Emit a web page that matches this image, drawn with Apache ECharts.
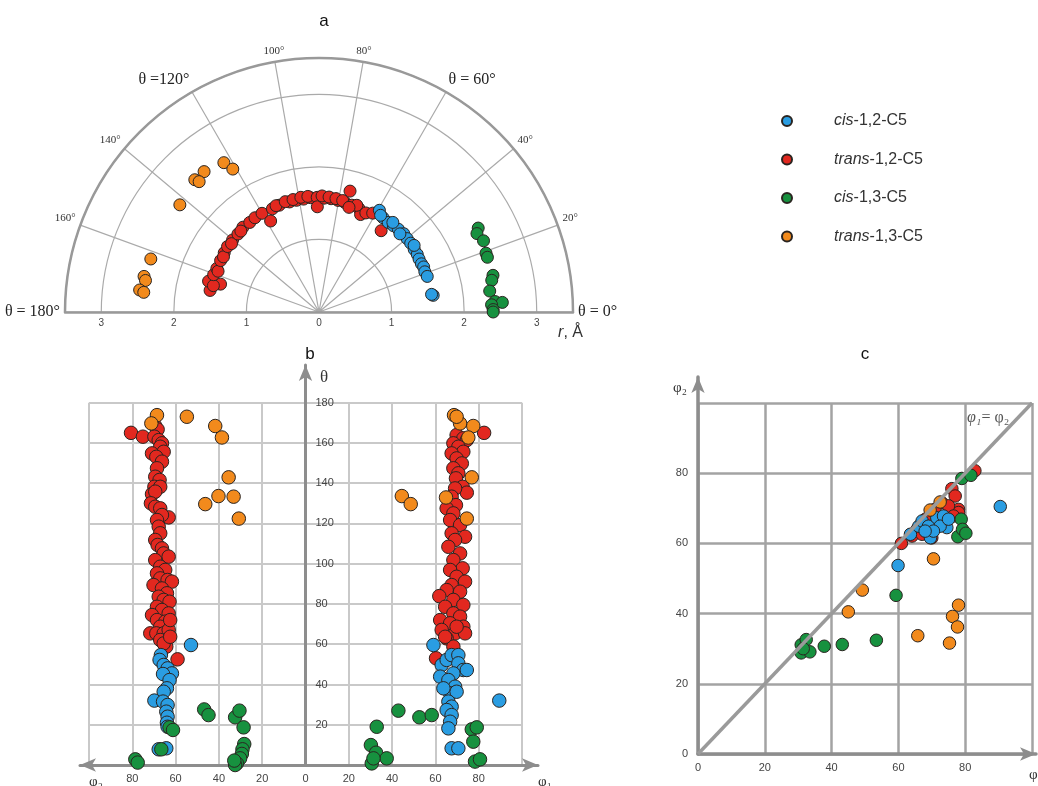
<!DOCTYPE html>
<html><head><meta charset="utf-8">
<script src="https://cdn.jsdelivr.net/npm/echarts@6/dist/echarts.min.js"></script>
<style>html,body{margin:0;padding:0;background:#fff}#c{width:1038px;height:786px}</style>
</head><body><div id="c"></div>
<script>
// ---------------- DATA ----------------
const speciesNames = ['cis-1,2-C5', 'trans-1,2-C5', 'cis-1,3-C5', 'trans-1,3-C5'];

// panel a : [r (Å), theta (deg)]
const aCis12 = [[1.63,59.3],[1.57,55.8],[1.56,52.3],[1.57,49.2],[1.58,46.2],[1.59,42.7],[1.58,39.8],[1.58,36.9],[1.57,33.3],[1.57,30.4],[1.56,27.9],[1.56,25.2],[1.57,23.3],[1.56,20.8],[1.57,18.2],[1.59,8.3],[1.57,8.9],[1.60,50.5],[1.55,44],[1.60,35],[1.58,57.5]];
const aTrans12 = [[1.53,168.8],[1.58,164.4],[1.41,164.2],[1.50,166],[1.54,160.5],[1.53,156.9],[1.50,158],[1.53,152.4],[1.54,148],[1.52,150],[1.55,144.4],[1.55,140.2],[1.53,142],[1.55,136.1],[1.57,131.9],[1.55,134],[1.56,127.7],[1.57,124.2],[1.57,120],[1.42,118],[1.56,114.3],[1.57,110.4],[1.58,112],[1.57,105],[1.59,107],[1.57,101.4],[1.59,103],[1.57,97.8],[1.60,99],[1.58,94.3],[1.60,95.5],[1.58,90.9],[1.45,90.9],[1.57,87.4],[1.60,88.5],[1.57,83.9],[1.59,85],[1.56,80.3],[1.58,81.5],[1.55,76.7],[1.72,75.6],[1.57,78],[1.54,72.9],[1.53,69],[1.46,66.9],[1.51,64.7],[1.55,61.5],[1.41,52.6],[1.56,70.5],[1.50,74]];
const aCis13 = [[2.48,27.8],[2.43,26.4],[2.47,23.4],[2.44,19.4],[2.44,18],[2.45,11.9],[2.42,10.4],[2.37,7],[2.43,3.4],[2.53,3],[2.38,2.4],[2.40,0.8],[2.40,0]];
const aTrans13 = [[2.44,122.5],[2.30,121.1],[2.50,129.3],[2.50,133.2],[2.44,132.6],[2.42,142.4],[2.43,162.5],[2.46,168.5],[2.43,169.7],[2.49,173],[2.43,173.6]];

// panel b : left half [phi2, theta], right half [phi1, theta]
const bCis12Phi2 = [[52.9,59.6],[66.8,54.6],[67.4,52.2],[65.5,49.7],[63.7,48],[61.7,45.5],[65.8,45.2],[62.8,42.2],[64,38.1],[65.5,36.4],[69.8,32],[65.8,31.5],[63.7,29.8],[64.3,26.5],[63.7,24],[64,21],[63.7,19],[67.8,7.8],[64.3,8.3]];
const bCis12Phi1 = [[59.1,59.6],[62.9,49.7],[62.2,43.9],[65.2,52.2],[67.5,54.6],[70.6,54.6],[70.6,50.5],[72.9,47.2],[74.5,47.2],[68.3,45.5],[66,42.2],[69.1,38.9],[66.8,35.6],[69.8,36.4],[66,31.5],[67.5,29],[65.2,27.3],[67.5,24.8],[66.8,21.5],[66,18.2],[67.5,8.3],[70.6,8.3],[89.5,32],[63.7,38.1]];
const bTrans12Phi2 = [[80.6,165],[75.1,163.1],[69.4,168.4],[68.3,166.7],[69.8,163.1],[67.8,161.4],[66.3,159.8],[67.1,158.1],[65.5,155.6],[70.9,154.8],[68.9,153.1],[66.3,150.7],[68.6,147.4],[69.4,143.2],[67.4,141.6],[69.8,138.2],[67.1,138.2],[70.9,134.6],[69.4,135.8],[71.4,130],[69.4,128.3],[67.1,127.5],[63.2,123],[66.3,124.2],[68.6,121.7],[67.8,118.4],[67.1,115.1],[69.4,111.8],[68.3,109.3],[66.3,107.6],[65.5,105.1],[63.2,103.5],[69.4,101.8],[67.1,98.5],[64.8,96.9],[68.6,95.2],[67.1,92.7],[63.7,91.9],[61.7,91.1],[70.2,89.4],[66.3,87.7],[64,85.3],[67.8,83.6],[65.5,82],[62.8,81.1],[68.6,78.6],[66.3,77],[63.2,75.3],[70.9,74.5],[68.6,72],[64.8,71.2],[67.1,68.7],[71.7,65.4],[68.9,65.4],[65.5,65.4],[63.2,67.1],[67.1,62.1],[64.3,58.8],[59.1,52.5],[65.5,60.4],[62.5,72],[62.5,63.7]];
const bTrans12Phi1 = [[82.5,165],[69.8,163.9],[72.9,162.3],[74.5,161.4],[68.3,159.8],[70.6,158.1],[72.9,155.6],[67.5,154.8],[69.8,152.3],[72.2,149.8],[68.3,147.4],[70.6,144.9],[69.5,142.4],[72.6,138.2],[74.5,135.3],[69.1,137.4],[67.5,133.3],[69.5,129.1],[65.2,127.5],[68.3,125],[66.8,121.7],[71.4,119.2],[73.7,113.4],[67.5,115.1],[69.1,111.8],[66,108.4],[71.4,105.1],[68.3,101.8],[72.6,97.7],[66.8,96.9],[69.8,93.5],[73.7,91.1],[67.5,89.4],[65.2,86.9],[71.4,86.1],[61.8,83.9],[68.3,82],[72.9,79.5],[64.5,78.6],[68.3,75.3],[71.4,73.7],[62.2,72],[66.8,70.4],[72.9,68.7],[62.9,67.1],[69.1,65.4],[73.7,65.4],[65.2,62.9],[68.3,58.8],[60.3,53],[64.5,63.7],[69.8,68.7]];
const bCis13Phi2 = [[78.6,2.8],[77.5,1.2],[66.6,7.8],[62.8,18.7],[61.2,17.4],[46.8,27.6],[44.8,24.8],[32.5,23.7],[30.5,27],[28.6,18.7],[28.3,10.4],[29.1,7.8],[29.4,5.5],[30.2,3.3],[31.7,0.8],[32.5,0],[32.9,2.2]];
const bCis13Phi1 = [[30.2,9.9],[32.6,6.1],[37.5,3.3],[30.6,0.8],[31.4,3.3],[32.9,19],[42.9,27],[52.6,23.7],[58.3,24.8],[76.8,17.7],[79.1,18.7],[77.5,11.6],[78.3,1.7],[80.6,2.8]];
const bTrans13Phi2 = [[68.6,173.8],[71.2,169.7],[54.8,173],[41.7,168.4],[38.6,162.7],[35.5,142.9],[40.2,133.6],[33.2,133.3],[46.3,129.6],[30.8,122.4]];
const bTrans13Phi1 = [[68.6,173.8],[71.4,169.7],[77.5,168.4],[75.2,162.7],[76.8,142.9],[64.9,132.9],[44.5,133.6],[48.6,129.6],[74.5,122.4],[69.8,173]];

// panel c : [phi1, phi2]
const cCis12 = [[63.6,62.6],[66.1,64.9],[67.1,66.4],[69,64.9],[69.6,61.6],[71.5,67.3],[73.5,67.8],[74.5,64.5],[72.5,64.9],[70.5,63.5],[68,63.5],[59.9,53.7],[75,66.9],[90.5,70.5]];
const cTrans12 = [[60.9,60],[76,75.6],[77,73.5],[78,69.7],[78,68.8],[82.9,80.7],[73,71.6],[70.9,69.7],[68.1,66.9],[65.6,64],[64.1,62.1],[75,70.7],[76.5,67.8],[74,66.4],[67.1,62.6],[70,61.6]];
const cCis13 = [[30.9,31.1],[30.9,28.8],[32.4,32.6],[33.5,29.1],[31.5,30],[37.8,30.7],[43.2,31.2],[53.4,32.4],[59.3,45.2],[77.8,61.9],[78.8,66.9],[79.2,64],[80.2,62.9],[79,78.5],[81.7,79.4]];
const cTrans13 = [[69.5,69.5],[72.5,71.8],[70.5,55.6],[45,40.5],[49.2,46.7],[65.8,33.7],[75.3,31.6],[76.2,39.2],[77.7,36.2],[78,42.4]];
const cDiagonal = [[0,0],[100,100]];

// tick label texts
const angleBigLabels = {0: 'θ = 0°', 60: 'θ = 60°', 120: 'θ =120°', 180: 'θ = 180°'};

// ---------------- STYLE / LAYOUT ----------------
const COLORS = {'cis-1,2-C5': '#2a9de2', 'trans-1,2-C5': '#e2281f', 'cis-1,3-C5': '#17913f', 'trans-1,3-C5': '#f28a1c'};
const PC = [319, 312], PR = 254, RMAX = 3.5;
const W = 1038, H = 786;
const SANS = 'Liberation Sans', SERIF = 'Liberation Serif';
const gridGray = '#c9c9c9', axisGray = '#8d8d8d';
const B_YPX = 2.013; // px per degree in panel b
const B_X0 = 305.5;  // theta axis position in panel b

function sc(name, extra, data, size) {
  return Object.assign({
    type: 'scatter', name: name, data: data, symbolSize: size,
    itemStyle: {color: COLORS[name], borderColor: '#2a2420', borderWidth: 1, opacity: 1},
    emphasis: {disabled: true}, silent: true
  }, extra);
}
const neg = arr => arr.map(p => [-p[0], p[1]]);

const series = [];
// panel a
series.push(sc('trans-1,2-C5', {coordinateSystem: 'polar', polarIndex: 0}, aTrans12, 12));
series.push(sc('cis-1,2-C5', {coordinateSystem: 'polar', polarIndex: 0}, aCis12, 12));
series.push(sc('cis-1,3-C5', {coordinateSystem: 'polar', polarIndex: 0}, aCis13, 12));
series.push(sc('trans-1,3-C5', {coordinateSystem: 'polar', polarIndex: 0}, aTrans13, 12));
// panel b
series.push(sc('trans-1,2-C5', {xAxisIndex: 0, yAxisIndex: 0}, neg(bTrans12Phi2).concat(bTrans12Phi1), 13.5));
series.push(sc('cis-1,2-C5', {xAxisIndex: 0, yAxisIndex: 0}, neg(bCis12Phi2).concat(bCis12Phi1), 13.5));
series.push(sc('cis-1,3-C5', {xAxisIndex: 0, yAxisIndex: 0}, neg(bCis13Phi2).concat(bCis13Phi1), 13.5));
series.push(sc('trans-1,3-C5', {xAxisIndex: 0, yAxisIndex: 0}, neg(bTrans13Phi2).concat(bTrans13Phi1), 13.5));
// panel c
series.push({type: 'line', name: 'diag', xAxisIndex: 2, yAxisIndex: 2, data: cDiagonal, symbol: 'none', silent: true,
  lineStyle: {color: '#9a9a9a', width: 3.5}});
series.push(sc('trans-1,2-C5', {xAxisIndex: 2, yAxisIndex: 2}, cTrans12, 12.5));
series.push(sc('cis-1,2-C5', {xAxisIndex: 2, yAxisIndex: 2}, cCis12, 12.5));
series.push(sc('cis-1,3-C5', {xAxisIndex: 2, yAxisIndex: 2}, cCis13, 12.5));
series.push(sc('trans-1,3-C5', {xAxisIndex: 2, yAxisIndex: 2}, cTrans13, 12.5));

const hidden = {show: false};
const tickLbl = {fontFamily: SANS, fontSize: 11, color: '#444'};
const bTop = 765 - 180 * B_YPX;

const option = {
  animation: false,
  backgroundColor: '#fff',
  title: [
    {text: 'a', left: 319, top: 8, textAlign: 'center', textStyle: {fontFamily: SANS, fontSize: 17, fontWeight: 'normal', color: '#111'}},
    {text: 'b', left: 305, top: 341, textAlign: 'center', textStyle: {fontFamily: SANS, fontSize: 17, fontWeight: 'normal', color: '#111'}},
    {text: 'c', left: 860, top: 341, textAlign: 'center', textStyle: {fontFamily: SANS, fontSize: 17, fontWeight: 'normal', color: '#111'}},
    {text: '{i|r}, Å', left: 578, top: 320, textAlign: 'right', textStyle: {fontFamily: SANS, fontSize: 16, fontWeight: 'normal', color: '#333', rich: {i: {fontStyle: 'italic', fontFamily: SANS, fontSize: 16, color: '#333'}}}},
    {text: 'θ', left: 315, top: 364, textStyle: {fontFamily: SERIF, fontSize: 17, fontWeight: 'normal', color: '#333'}},
    {text: 'φ₂', left: 84, top: 770, textStyle: {fontFamily: SERIF, fontSize: 15, fontWeight: 'normal', color: '#333'}},
    {text: 'φ₁', left: 533, top: 770, textStyle: {fontFamily: SERIF, fontSize: 15, fontWeight: 'normal', color: '#333'}},
    {text: 'φ₂', left: 668, top: 376, textStyle: {fontFamily: SERIF, fontSize: 15, fontWeight: 'normal', color: '#333'}},
    {text: 'φ₁', left: 1024, top: 763, textStyle: {fontFamily: SERIF, fontSize: 15, fontWeight: 'normal', color: '#333'}},
    {text: '{i|φ₁}= φ₂', left: 962, top: 405, textStyle: {fontFamily: SERIF, fontSize: 16, fontWeight: 'normal', color: '#555', rich: {i: {fontStyle: 'italic', fontFamily: SERIF, fontSize: 16, color: '#555'}}}}
  ],
  legend: {
    data: speciesNames, orient: 'vertical', left: 776, top: 108, itemWidth: 84, itemHeight: 10, itemGap: 22.5,
    icon: 'circle', selectedMode: false,
    formatter: n => { const k = n.indexOf('-'); return '{i|' + n.slice(0, k) + '}' + n.slice(k); },
    textStyle: {fontFamily: SANS, fontSize: 16, color: '#333', rich: {i: {fontFamily: SANS, fontSize: 16, fontStyle: 'italic', color: '#333'}}}
  },
  polar: [{center: PC, radius: PR}],
  angleAxis: [{
    polarIndex: 0, type: 'value', min: 0, max: 180, interval: 20, startAngle: 0, endAngle: 180, clockwise: false,
    axisLine: {lineStyle: {color: '#999', width: 2.5}}, axisTick: hidden,
    splitLine: {lineStyle: {color: '#aaa', width: 1.2}},
    axisLabel: {
      margin: 5,
      formatter: v => angleBigLabels[v] !== undefined ? '{b|' + angleBigLabels[v] + '}' : '{s|' + v + '°}',
      rich: {b: {fontFamily: SERIF, fontSize: 16, color: '#222'}, s: {fontFamily: SERIF, fontSize: 11, color: '#333'}}
    }
  }],
  radiusAxis: [{
    polarIndex: 0, type: 'value', min: 0, max: RMAX, interval: 1,
    axisLine: hidden, axisTick: hidden, axisLabel: hidden,
    splitLine: {show: true, lineStyle: {color: '#aaa', width: 1.2}}
  }],
  grid: [
    {left: 89, right: W - 522, top: bTop, bottom: H - 765},                // 0: b main
    {left: 80, right: W - 538, top: 365, bottom: H - 765},                 // 1: b arrows
    {left: 698, right: W - 1032, top: 403, bottom: H - 754},               // 2: c main
    {left: 698, right: W - 1036, top: 377, bottom: H - 754},               // 3: c arrows
    {left: PC[0] - PR, right: W - (PC[0] + PR), top: 250, bottom: H - PC[1]}, // 4: a baseline labels
    {left: B_X0, right: W - 522, top: bTop, bottom: H - 765}               // 5: b theta labels
  ],
  xAxis: [
    {gridIndex: 0, type: 'value', min: -100, max: 100, interval: 20, axisLine: hidden, axisTick: hidden,
      axisLabel: Object.assign({margin: 8, formatter: v => Math.abs(v) === 100 ? '' : String(Math.abs(v))}, tickLbl),
      splitLine: {lineStyle: {color: gridGray, width: 2}}},
    {gridIndex: 1, type: 'value', min: (80 - B_X0) / 2.163, max: (538 - B_X0) / 2.163, axisTick: hidden, axisLabel: hidden, splitLine: hidden,
      axisLine: {onZero: false, symbol: ['arrow', 'arrow'], symbolSize: [10, 16], lineStyle: {color: axisGray, width: 3}}},
    {gridIndex: 2, type: 'value', min: 0, max: 100, interval: 20, axisLine: hidden, axisTick: hidden,
      axisLabel: Object.assign({margin: 8, formatter: v => v === 100 ? '' : String(v)}, tickLbl),
      splitLine: {lineStyle: {color: '#a3a3a3', width: 2.5}}},
    {gridIndex: 3, type: 'value', min: 0, max: (1036 - 698) / 3.34, axisTick: hidden, axisLabel: hidden, splitLine: hidden,
      axisLine: {onZero: false, symbol: ['none', 'arrow'], symbolSize: [10, 16], lineStyle: {color: axisGray, width: 3.5}}},
    {gridIndex: 4, type: 'value', min: -RMAX, max: RMAX, interval: 0.5, axisTick: hidden, splitLine: hidden,
      axisLine: {onZero: false, lineStyle: {color: '#999', width: 2.5}},
      axisLabel: {margin: 6, fontFamily: SANS, fontSize: 10, color: '#444', formatter: v => Number.isInteger(v) ? String(Math.abs(v)) : ''}},
    {gridIndex: 5, type: 'value', min: 0, max: 100, show: false}
  ],
  yAxis: [
    {gridIndex: 0, type: 'value', min: 0, max: 180, interval: 20,
      axisLine: hidden, axisTick: hidden, axisLabel: hidden,
      splitLine: {lineStyle: {color: gridGray, width: 2}}},
    {gridIndex: 1, type: 'value', min: 0, max: (765 - 365) / B_YPX, axisTick: hidden, splitLine: hidden, axisLabel: hidden,
      axisLine: {onZero: true, symbol: ['none', 'arrow'], symbolSize: [10, 16], lineStyle: {color: axisGray, width: 3}}},
    {gridIndex: 2, type: 'value', min: 0, max: 100, interval: 20, axisLine: hidden, axisTick: hidden,
      axisLabel: Object.assign({margin: 10, formatter: v => v === 100 ? '' : String(v)}, tickLbl),
      splitLine: {lineStyle: {color: '#a3a3a3', width: 2.5}}},
    {gridIndex: 3, type: 'value', min: 0, max: (754 - 377) / 3.51, axisTick: hidden, axisLabel: hidden, splitLine: hidden,
      axisLine: {onZero: false, symbol: ['none', 'arrow'], symbolSize: [10, 16], lineStyle: {color: axisGray, width: 3.5}}},
    {gridIndex: 4, type: 'value', min: 0, max: 1, show: false},
    {gridIndex: 5, type: 'value', min: 0, max: 180, interval: 20, position: 'left',
      axisLine: hidden, axisTick: hidden, splitLine: hidden,
      axisLabel: Object.assign({inside: true, margin: 10, formatter: v => v === 0 ? '' : String(v)}, tickLbl)}
  ],
  series: series
};

const chart = echarts.init(document.getElementById('c'), null, {renderer: 'canvas'});
chart.setOption(option);
</script>
</body></html>
